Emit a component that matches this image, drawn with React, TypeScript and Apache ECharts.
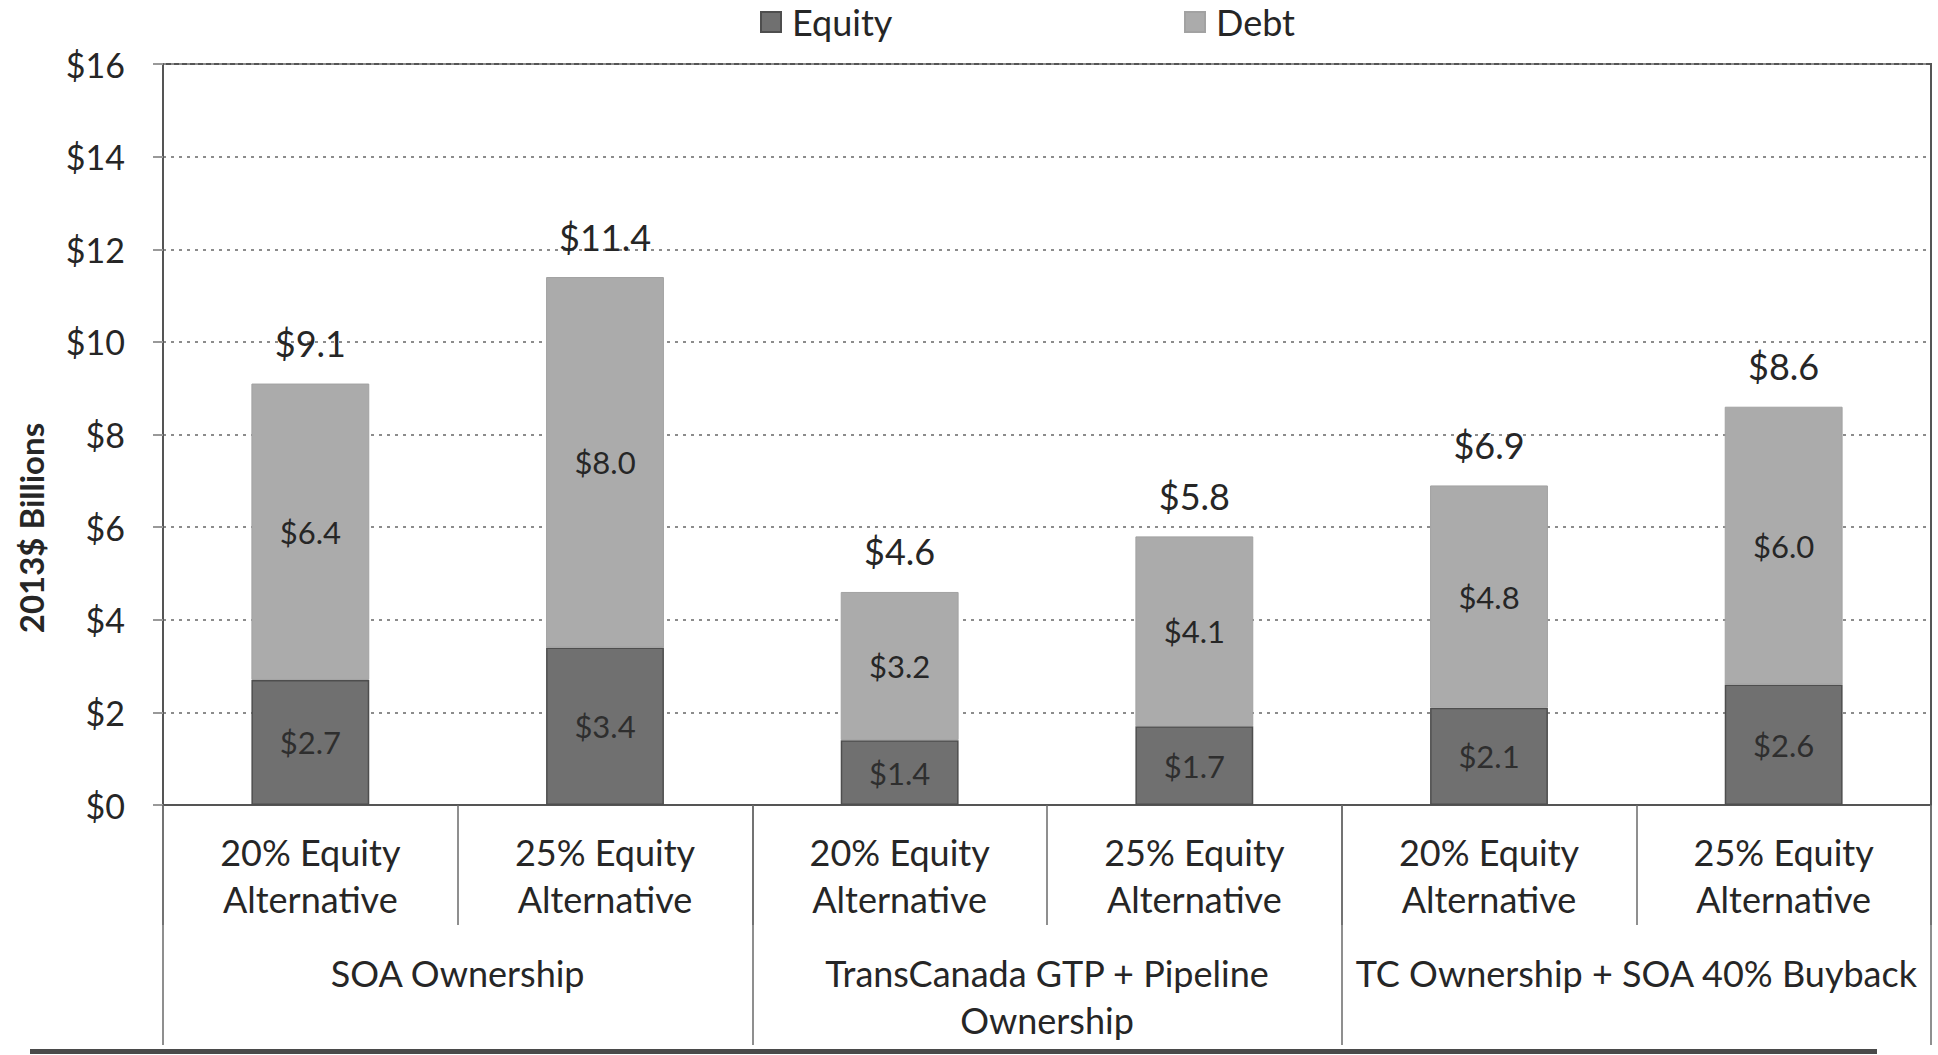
import React, { useEffect, useRef } from "react";
import * as echarts from "echarts";

const subCategories = [
  "20% Equity\nAlternative",
  "25% Equity\nAlternative",
  "20% Equity\nAlternative",
  "25% Equity\nAlternative",
  "20% Equity\nAlternative",
  "25% Equity\nAlternative",
];
const groupCategories = [
  "SOA Ownership",
  "TransCanada GTP + Pipeline\nOwnership",
  "TC Ownership + SOA 40% Buyback",
];
const equityValues = [2.7, 3.4, 1.4, 1.7, 2.1, 2.6];
const debtValues = [6.4, 8.0, 3.2, 4.1, 4.8, 6.0];
const totalValues = [9.1, 11.4, 4.6, 5.8, 6.9, 8.6];
const yTicks = { min: 0, max: 16, interval: 2 };

const FONT = "Lato";
const TEXT = "#262626";

export default function App() {
  const ref = useRef<HTMLDivElement>(null);
  useEffect(() => {
    if (!ref.current) return;
    const chart = echarts.init(ref.current, undefined, { renderer: "svg" });
    const money = (v: number) => "$" + v.toFixed(1);
    chart.setOption({
      animation: false,
      backgroundColor: "#ffffff",
      textStyle: { fontFamily: FONT, color: TEXT },
      legend: [
        {
          data: ["Equity"],
          left: 755,
          top: 0,
          padding: [4, 5],
          icon: "rect",
          itemWidth: 20,
          itemHeight: 20,
          textStyle: { fontFamily: FONT, fontSize: 36, color: TEXT, padding: [0, 0, 0, 6] },
        },
        {
          data: ["Debt"],
          left: 1179,
          top: 0,
          padding: [4, 5],
          icon: "rect",
          itemWidth: 20,
          itemHeight: 20,
          textStyle: { fontFamily: FONT, fontSize: 36, color: TEXT, padding: [0, 0, 0, 6] },
        },
      ],
      grid: {
        left: 163,
        right: 7,
        top: 64,
        bottom: 250,
        show: true,
        borderColor: "#555555",
        borderWidth: 2,
        backgroundColor: "transparent",
      },
      xAxis: [
        {
          type: "category",
          data: subCategories,
          position: "bottom",
          axisLine: { show: true, lineStyle: { color: "#555555", width: 2 } },
          axisTick: {
            show: true,
            interval: 0,
            length: 120,
            lineStyle: { color: "#6a6a6a", width: 1.5 },
          },
          axisLabel: {
            interval: 0,
            margin: 23,
            fontFamily: FONT,
            fontSize: 36,
            lineHeight: 47,
            color: TEXT,
          },
        },
        {
          type: "category",
          data: groupCategories,
          position: "bottom",
          offset: 0,
          axisLine: { show: false },
          axisTick: {
            show: true,
            interval: 0,
            length: 240,
            lineStyle: { color: "#6a6a6a", width: 1.5 },
          },
          axisLabel: {
            interval: 0,
            margin: 144,
            fontFamily: FONT,
            fontSize: 36,
            lineHeight: 47,
            color: TEXT,
          },
        },
      ],
      yAxis: {
        type: "value",
        min: yTicks.min,
        max: yTicks.max,
        interval: yTicks.interval,
        axisLine: { show: true, lineStyle: { color: "#555555", width: 2 } },
        axisTick: { show: true, length: 10, lineStyle: { color: "#999999", width: 2 } },
        splitLine: {
          show: true,
          lineStyle: { color: "#8c8c8c", width: 2, type: [3, 5] },
        },
        axisLabel: {
          margin: 38,
          fontFamily: FONT,
          fontSize: 34,
          color: TEXT,
          formatter: (v: number) => "$" + v,
        },
      },
      series: [
        {
          name: "Equity",
          type: "bar",
          stack: "total",
          barWidth: "40%",
          data: equityValues,
          itemStyle: { color: "#707070", borderColor: "#4e4e4e", borderWidth: 1.5 },
          label: {
            show: true,
            position: "inside",
            fontFamily: FONT,
            fontSize: 31,
            color: "#2e2e2e",
            formatter: (p: any) => money(p.value),
          },
        },
        {
          name: "Debt",
          type: "bar",
          stack: "total",
          barWidth: "40%",
          data: debtValues,
          itemStyle: { color: "#ababab", borderColor: "#a2a2a2", borderWidth: 1 },
          label: {
            show: true,
            position: "inside",
            fontFamily: FONT,
            fontSize: 31,
            color: "#262626",
            formatter: (p: any) => money(p.value),
          },
        },
        {
          name: "Total",
          type: "scatter",
          data: totalValues,
          symbolSize: 1,
          itemStyle: { color: "transparent", opacity: 1 },
          silent: true,
          label: {
            show: true,
            position: "top",
            distance: 22,
            fontFamily: FONT,
            fontSize: 36,
            color: TEXT,
            formatter: (p: any) => money(p.value),
          },
        },
      ],
      graphic: [
        {
          type: "text",
          x: 31,
          y: 528,
          rotation: Math.PI / 2,
          style: {
            text: "2013$ Billions",
            fontFamily: FONT,
            fontWeight: "bold",
            fontSize: 33,
            fill: TEXT,
            align: "center",
            verticalAlign: "middle",
          },
        },
        {
          type: "rect",
          shape: { x: 30, y: 1049, width: 1847, height: 5 },
          style: { fill: "#4a4a4a" },
        },
      ],
    });
    return () => chart.dispose();
  }, []);
  return (
    <div
      ref={ref}
      style={{
        position: "fixed",
        left: 0,
        top: 0,
        width: 1938,
        height: 1055,
        background: "#ffffff",
      }}
    />
  );
}
